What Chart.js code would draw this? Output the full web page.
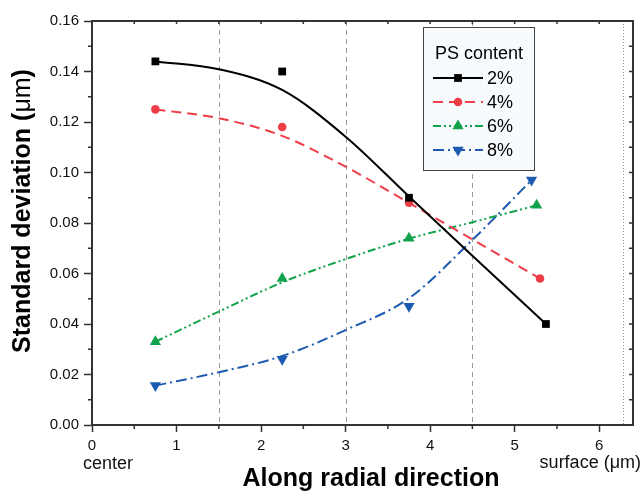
<!DOCTYPE html>
<html>
<head>
<meta charset="utf-8">
<script src="https://cdn.jsdelivr.net/npm/chart.js@4.4.0/dist/chart.umd.min.js"></script>
<style>
  html, body { margin: 0; padding: 0; background: #fff; }
</style>
</head>
<body>
<canvas id="sdChart" width="643" height="493"></canvas>
<script>
// measured standard deviation (um) per PS content, along the radius
var seriesNames = ['2%', '4%', '6%', '8%'];

var x2 = [0.75, 2.25, 3.75, 5.37];
var y2 = [0.144, 0.140, 0.090, 0.040];
var x4 = [0.75, 2.25, 3.75, 5.30];
var y4 = [0.125, 0.118, 0.088, 0.058];
var x6 = [0.75, 2.25, 3.75, 5.26];
var y6 = [0.033, 0.058, 0.074, 0.087];
var x8 = [0.75, 2.25, 3.75, 5.20];
var y8 = [0.0156, 0.026, 0.047, 0.097];

// fitted trend curves
var fitX2 = [0.75, 1.5, 2.25, 3, 3.75, 4.5, 5.37];
var fitY2 = [0.144, 0.1409, 0.1327, 0.1142, 0.0905, 0.067, 0.040];
var fitX4 = [0.75, 1.5, 2.25, 3, 3.75, 4.5, 5.30];
var fitY4 = [0.125, 0.1215, 0.1145, 0.1023, 0.088, 0.0735, 0.058];
var fitX6 = [0.75, 1.5, 2.25, 3, 3.75, 4.5, 5.26];
var fitY6 = [0.033, 0.0449, 0.0565, 0.0657, 0.0738, 0.0803, 0.087];
var fitX8 = [0.75, 1.5, 2.25, 3, 3.75, 4.5, 5.20];
var fitY8 = [0.0156, 0.0209, 0.0273, 0.0376, 0.0502, 0.0733, 0.097];

// axis ticks and zone boundaries
var xTicks = [0, 1, 2, 3, 4, 5, 6];
var xMinor = [0.5, 1.5, 2.5, 3.5, 4.5, 5.5];
var yTicks = [0, 0.02, 0.04, 0.06, 0.08, 0.10, 0.12, 0.14, 0.16];
var yMinor = [0.01, 0.03, 0.05, 0.07, 0.09, 0.11, 0.13, 0.15];
var zoneX = [1.5, 3, 4.5];
var surfaceX = 6.28;

var colors = ['#000000', '#ef3d47', '#10a34b', '#1d5bb3'];
var dashes = [[], [10, 6], [8, 3, 2, 3, 2, 3], [11, 4, 2, 4]];
var markers = ['rect', 'circle', 'triangle', 'triangle'];
var rotations = [0, 0, 0, 180];
var sizes = [5.5, 4.3, 6.5, 6.5];

var FONT = "'Liberation Sans', Arial, sans-serif";

function pts(xs, ys) {
  return xs.map(function (x, i) { return {x: x, y: ys[i]}; });
}

var pointSets = [pts(x2, y2), pts(x4, y4), pts(x6, y6), pts(x8, y8)];
var fitSets = [pts(fitX2, fitY2), pts(fitX4, fitY4), pts(fitX6, fitY6), pts(fitX8, fitY8)];

var datasets = [];
seriesNames.forEach(function (name, i) {
  datasets.push({
    type: 'line',
    label: name + ' fit',
    data: fitSets[i],
    borderColor: colors[i],
    borderWidth: 2,
    borderDash: dashes[i],
    pointRadius: 0,
    cubicInterpolationMode: 'monotone',
    fill: false,
    order: 2
  });
  datasets.push({
    type: 'scatter',
    label: name,
    data: pointSets[i],
    backgroundColor: colors[i],
    borderColor: colors[i],
    borderWidth: 0,
    pointStyle: markers[i],
    rotation: rotations[i],
    pointRadius: sizes[i],
    order: 1
  });
});

// dashed zone lines, frame, minor ticks, titles and the in-plot legend
var decor = {
  id: 'decor',
  beforeDatasetsDraw: function (chart) {
    var ctx = chart.ctx, a = chart.chartArea, xs = chart.scales.x;
    ctx.save();
    ctx.strokeStyle = '#9a9a9a';
    ctx.lineWidth = 1;
    ctx.setLineDash([5, 4]);
    zoneX.forEach(function (v) {
      var px = Math.round(xs.getPixelForValue(v)) + 0.5;
      ctx.beginPath(); ctx.moveTo(px, a.top); ctx.lineTo(px, a.bottom); ctx.stroke();
    });
    ctx.setLineDash([1, 2]);
    var sx = Math.round(xs.getPixelForValue(surfaceX)) + 0.5;
    ctx.beginPath(); ctx.moveTo(sx, a.top); ctx.lineTo(sx, a.bottom); ctx.stroke();
    ctx.restore();
  },
  afterDraw: function (chart) {
    var ctx = chart.ctx, a = chart.chartArea, xs = chart.scales.x, ys = chart.scales.y;
    ctx.save();
    ctx.strokeStyle = '#333';
    ctx.lineWidth = 2;
    ctx.strokeRect(a.left, a.top, a.right - a.left, a.bottom - a.top);

    ctx.lineWidth = 1.5;
    ctx.beginPath();
    yMinor.forEach(function (v) {
      var py = ys.getPixelForValue(v);
      ctx.moveTo(a.left - 4, py); ctx.lineTo(a.left, py);
    });
    xMinor.forEach(function (v) {
      var px = xs.getPixelForValue(v);
      ctx.moveTo(px, a.bottom); ctx.lineTo(px, a.bottom + 4);
    });
    // inward ticks on top and right edges
    xTicks.concat(xMinor).forEach(function (v) {
      var px = xs.getPixelForValue(v);
      ctx.moveTo(px, a.top); ctx.lineTo(px, a.top + 3);
    });
    yTicks.concat(yMinor).forEach(function (v) {
      var py = ys.getPixelForValue(v);
      ctx.moveTo(a.right, py); ctx.lineTo(a.right - 4, py);
    });
    ctx.stroke();

    // end labels under the x axis
    ctx.fillStyle = '#111';
    ctx.font = '18px ' + FONT;
    ctx.textBaseline = 'alphabetic';
    ctx.textAlign = 'left';
    ctx.fillText('center', xs.getPixelForValue(0) - 9, 469);
    ctx.textAlign = 'right';
    ctx.fillText('surface (\u03bcm)', chart.width - 2, 468);

    // x axis title
    ctx.fillStyle = '#000';
    ctx.font = 'bold 25px ' + FONT;
    ctx.textAlign = 'center';
    ctx.fillText('Along radial direction', 371, 486);

    // y axis title, bold text with a plain mu
    ctx.save();
    ctx.translate(23, 211);
    ctx.rotate(-Math.PI / 2);
    ctx.textBaseline = 'middle';
    var bold = 'bold 25px ' + FONT, plain = '25px ' + FONT;
    var t1 = 'Standard deviation (', t2 = '\u03bcm', t3 = ')';
    ctx.font = bold; var w1 = ctx.measureText(t1).width, w3 = ctx.measureText(t3).width;
    ctx.font = plain; var w2 = ctx.measureText(t2).width;
    var x0 = -(w1 + w2 + w3) / 2;
    ctx.textAlign = 'left';
    ctx.font = bold; ctx.fillText(t1, x0, 0);
    ctx.font = plain; ctx.fillText(t2, x0 + w1, 0);
    ctx.font = bold; ctx.fillText(t3, x0 + w1 + w2, 0);
    ctx.restore();

    // legend box
    var bx = a.right - 210, by = a.top + 6, bw = 111, bh = 143;
    ctx.fillStyle = '#f8fbfe';
    ctx.fillRect(bx, by, bw, bh);
    ctx.strokeStyle = '#444';
    ctx.lineWidth = 1;
    ctx.strokeRect(bx + 0.5, by + 0.5, bw, bh);
    ctx.fillStyle = '#000';
    ctx.font = '18px ' + FONT;
    ctx.textAlign = 'center';
    ctx.textBaseline = 'middle';
    ctx.fillText('PS content', bx + 56, by + 27);
    seriesNames.forEach(function (name, i) {
      var ly = by + 51 + i * 24;
      ctx.strokeStyle = colors[i];
      ctx.lineWidth = 2;
      ctx.setLineDash(dashes[i]);
      ctx.beginPath(); ctx.moveTo(bx + 10, ly); ctx.lineTo(bx + 60, ly); ctx.stroke();
      ctx.setLineDash([]);
      ctx.fillStyle = colors[i];
      Chart.helpers.drawPoint(ctx, {pointStyle: markers[i], rotation: rotations[i], radius: sizes[i], borderWidth: 0}, bx + 35, ly);
      ctx.fillStyle = '#000';
      ctx.textAlign = 'left';
      ctx.fillText(name, bx + 64, ly + 1);
    });
    ctx.restore();
  }
};

var ctx_sd = document.getElementById('sdChart').getContext('2d');
var sdChart = new Chart(ctx_sd, {
  data: {datasets: datasets},
  plugins: [decor],
  options: {
    responsive: false,
    animation: false,
    layout: {padding: {top: 21, right: 10, left: 0, bottom: 0}},
    plugins: {legend: {display: false}, tooltip: {enabled: false}},
    scales: {
      x: {
        type: 'linear',
        min: 0,
        max: 6.4,
        afterBuildTicks: function (axis) { axis.ticks = xTicks.map(function (v) { return {value: v}; }); },
        afterFit: function (axis) { axis.height = 68; },
        grid: {drawOnChartArea: false, tickLength: 7, tickWidth: 1.5, tickColor: '#333'},
        border: {display: false},
        ticks: {color: '#111', padding: 5, font: {size: 15, family: FONT}, maxRotation: 0}
      },
      y: {
        type: 'linear',
        min: 0,
        max: 0.16,
        afterBuildTicks: function (axis) { axis.ticks = yTicks.map(function (v) { return {value: v}; }); },
        afterFit: function (axis) { axis.width = 92; },
        grid: {drawOnChartArea: false, tickLength: 8, tickWidth: 1.5, tickColor: '#333'},
        border: {display: false},
        ticks: {color: '#111', padding: 5, font: {size: 15, family: FONT},
                callback: function (v) { return v.toFixed(2); }}
      }
    }
  }
});
</script>
</body>
</html>
